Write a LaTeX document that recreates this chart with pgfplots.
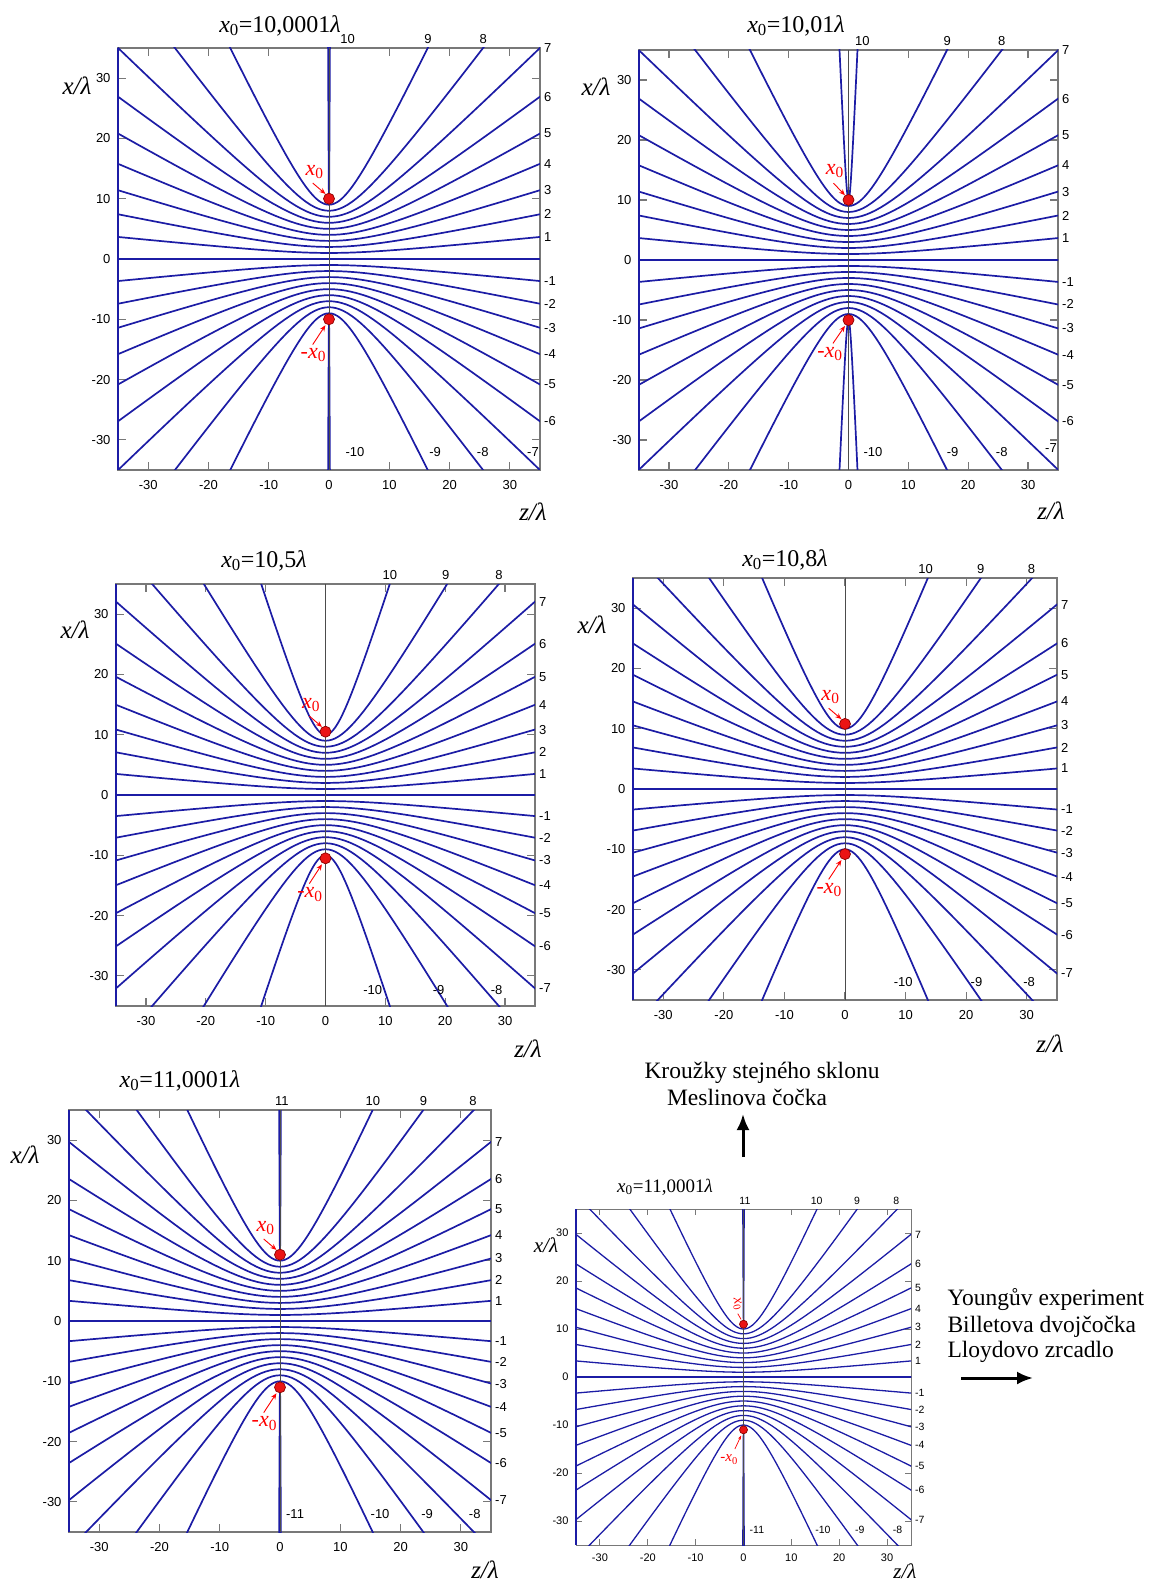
\documentclass[border=0pt]{standalone}
\usepackage{fontspec}
\setmainfont{Liberation Serif}
\newfontfamily\arial{Liberation Sans}
\usepackage{pgfplots}
\usepackage{pgfplotstable}
\pgfplotsset{compat=1.18}
\usetikzlibrary{arrows.meta}

\definecolor{fr}{RGB}{28,28,165}
\definecolor{axg}{RGB}{120,120,120}
\definecolor{dotred}{RGB}{235,20,20}

% unit hyperbola: (sinh s, cosh s), s = -2.6 ... 2.6
\pgfplotstableread{
sh ch
-6.694732 6.769006
-6.050204 6.132289
-5.466229 5.556947
-4.936962 5.037221
-4.457105 4.567908
-4.021857 4.144313
-3.626860 3.762196
-3.268163 3.417732
-2.942174 3.107473
-2.645632 2.828315
-2.375568 2.577464
-2.129279 2.352410
-1.904302 2.150898
-1.698382 1.970914
-1.509461 1.810656
-1.335647 1.668519
-1.175201 1.543081
-1.026517 1.433086
-0.888106 1.337435
-0.758584 1.255169
-0.636654 1.185465
-0.521095 1.127626
-0.410752 1.081072
-0.304520 1.045339
-0.201336 1.020067
-0.100167 1.005004
0 1
0.100167 1.005004
0.201336 1.020067
0.304520 1.045339
0.410752 1.081072
0.521095 1.127626
0.636654 1.185465
0.758584 1.255169
0.888106 1.337435
1.026517 1.433086
1.175201 1.543081
1.335647 1.668519
1.509461 1.810656
1.698382 1.970914
1.904302 2.150898
2.129279 2.352410
2.375568 2.577464
2.645632 2.828315
2.942174 3.107473
3.268163 3.417732
3.626860 3.762196
4.021857 4.144313
4.457105 4.567908
4.936962 5.037221
5.466229 5.556947
6.050204 6.132289
6.694732 6.769006
}\unith

\newcommand\xz{\textit{x}\textsubscript{0}}

\tikzset{
  fringe/.style={fr, line width=1.7pt},
  lbl/.style={font=\arial\fontsize{13}{15}\selectfont, inner sep=1pt},
  slbl/.style={font=\arial\fontsize{10.5}{12}\selectfont, inner sep=1pt},
  xl/.style={text=red, font=\fontsize{22}{24}\selectfont, inner sep=0pt},
  sxl/.style={text=red, font=\fontsize{15}{17}\selectfont, inner sep=0pt},
  xa/.style={red, line width=0.9pt, -{Stealth[length=6pt,width=5pt]}},
}
\pgfplotsset{
  panel/.style={
    scale only axis, anchor=north west,
    xmin=-35, xmax=35, ymin=-35, ymax=35,
    xtick={-30,-20,-10,0,10,20,30}, ytick={-30,-20,-10,0,10,20,30},
    tick align=inside, major tick length=8pt,
    axis line style={axg, line width=1.3pt},
    tick style={axg, line width=1.2pt},
    /pgf/number format/assume math mode=true,
    tick label style={font=\arial\fontsize{13}{15}\selectfont, text=black},
    xticklabel style={yshift=-7pt},
    yticklabel style={xshift=-4pt},
    clip mode=individual,
  },
  src/.style={only marks, mark=*, mark size=5.5pt, mark options={fill=dotred, draw=red!55!black, line width=0.7pt}},
}

\newcommand\fringes[2][fringe]{%
  \foreach \a/\b in {#2}{%
    \edef\tmp{\noexpand\addplot[#1, mark=none] table[x expr=\noexpand\thisrow{sh}*\b, y expr=\noexpand\thisrow{ch}*\a]{\noexpand\unith};%
      \noexpand\addplot[#1, mark=none] table[x expr=\noexpand\thisrow{sh}*\b, y expr=-\noexpand\thisrow{ch}*\a]{\noexpand\unith};}%
    \tmp}}
\newcommand\rlab[2][lbl]{\foreach \v/\t in {#2}{\edef\tmp{\noexpand\node[#1,anchor=west,xshift=3pt] at (axis cs:35,\v) {\t};}\tmp}}
\newcommand\tlab[2][lbl]{\foreach \v/\t in {#2}{\edef\tmp{\noexpand\node[#1,anchor=south,yshift=3pt] at (axis cs:\v,35) {\t};}\tmp}}
\newcommand\blab[3][lbl]{\foreach \v/\t in {#3}{\edef\tmp{\noexpand\node[#1] at (axis cs:\v,#2) {\t};}\tmp}}

\begin{document}
\begin{tikzpicture}
\path[use as bounding box] (0,0) rectangle (1154pt,-1582pt);

% ---------------- Panel 1: x0 = 10.0001
\begin{axis}[panel, at={(118pt,-48pt)}, width=422pt, height=422pt]
\fringes{0/10.0001, 1/9.9500, 2/9.7981, 3/9.5395, 4/9.1652, 5/8.6604, 6/8.0001, 7/7.1416, 8/6.0002, 9/4.3591, 10/0.0447}
\draw[black!70, line width=0.9pt] (axis cs:0,-35) -- (axis cs:0,35);
\draw[fringe] (axis cs:-35,-35) -- (axis cs:-35,35);
\addplot[src] coordinates {(0,10.0001) (0,-10.0001)};
\node[xl] at (axis cs:-2.4,14.4) {\xz};
\draw[xa] (axis cs:-2.7,12.6) -- (axis cs:-0.6,10.8);
\node[xl] at (axis cs:-2.6,-16.0) {-\xz};
\draw[xa] (axis cs:-2.7,-14.2) -- (axis cs:-0.6,-11.0);
\rlab{3.66/1, 7.42/2, 11.41/3, 15.79/4, 20.82/5, 26.93/6, 35/7, -3.66/-1, -7.42/-2, -11.41/-3, -15.79/-4, -20.82/-5, -26.93/-6}
\tlab{3.1/10, 16.4/9, 25.6/8}
\blab{-32}{4.3/-10, 17.6/-9, 25.5/-8}
\node[lbl, anchor=east] at (axis cs:35,-32) {-7};
\end{axis}

% ---------------- Panel 2: x0 = 10.01
\begin{axis}[panel, at={(639pt,-50pt)}, width=419pt, height=420pt]
\fringes{0/10.01, 1/9.9599, 2/9.8082, 3/9.5499, 4/9.1761, 5/8.6718, 6/8.0125, 7/7.1554, 8/6.0167, 9/4.3818, 10/0.4473}
\draw[black!70, line width=0.9pt] (axis cs:0,-35) -- (axis cs:0,35);
\draw[fringe] (axis cs:-35,-35) -- (axis cs:-35,35);
\addplot[src] coordinates {(0,10.01) (0,-10.01)};
\node[xl] at (axis cs:-2.3,14.9) {\xz};
\draw[xa] (axis cs:-2.5,12.8) -- (axis cs:-0.6,10.8);
\node[xl] at (axis cs:-3.1,-15.6) {-\xz};
\draw[xa] (axis cs:-2.6,-13.9) -- (axis cs:-0.6,-11.0);
\rlab{3.65/1, 7.41/2, 11.40/3, 15.77/4, 20.79/5, 26.89/6, 35/7, -3.65/-1, -7.41/-2, -11.40/-3, -15.77/-4, -20.79/-5, -26.89/-6}
\tlab{2.3/10, 16.5/9, 25.6/8}
\blab{-32}{4.1/-10, 17.4/-9, 25.6/-8}
\node[lbl, anchor=east] at (axis cs:35,-31.3) {-7};
\end{axis}

% ---------------- Panel 3: x0 = 10.5
\begin{axis}[panel, at={(116pt,-584pt)}, width=419pt, height=422pt]
\fringes{0/10.5, 1/10.4523, 2/10.3078, 3/10.0623, 4/9.7082, 5/9.2331, 6/8.6168, 7/7.8262, 8/6.8007, 9/5.4083, 10/3.2016}
\draw[black!70, line width=0.9pt] (axis cs:0,-35) -- (axis cs:0,35);
\draw[fringe] (axis cs:-35,-35) -- (axis cs:-35,35);
\addplot[src] coordinates {(0,10.5) (0,-10.5)};
\node[xl] at (axis cs:-2.4,14.9) {\xz};
\draw[xa] (axis cs:-2.7,13.1) -- (axis cs:-0.6,11.3);
\node[xl] at (axis cs:-2.6,-16.5) {-\xz};
\draw[xa] (axis cs:-2.7,-14.7) -- (axis cs:-0.6,-11.5);
\rlab{3.49/1, 7.08/2, 10.86/3, 14.97/4, 19.60/5, 25.10/6, 32.08/7, -3.49/-1, -7.08/-2, -10.86/-3, -14.97/-4, -19.60/-5, -25.10/-6, -32.08/-7}
\tlab{10.74/10, 20.1/9, 29.0/8}
\blab{-32.3}{7.9/-10, 18.9/-9, 28.6/-8}
\end{axis}

% ---------------- Panel 4: x0 = 10.8
\begin{axis}[panel, at={(633pt,-578pt)}, width=424pt, height=422pt]
\fringes{0/10.8, 1/10.7536, 2/10.6132, 3/10.3750, 4/10.0319, 5/9.5729, 6/8.9800, 7/8.2244, 8/7.2553, 9/5.9699, 10/4.0792}
\draw[black!70, line width=0.9pt] (axis cs:0,-35) -- (axis cs:0,35);
\draw[fringe] (axis cs:-35,-35) -- (axis cs:-35,35);
\addplot[src] coordinates {(0,10.8) (0,-10.8)};
\node[xl] at (axis cs:-2.4,15.2) {\xz};
\draw[xa] (axis cs:-2.7,13.4) -- (axis cs:-0.6,11.6);
\node[xl] at (axis cs:-2.6,-16.8) {-\xz};
\draw[xa] (axis cs:-2.7,-15.0) -- (axis cs:-0.6,-11.8);
\rlab{3.40/1, 6.89/2, 10.56/3, 14.52/4, 18.95/5, 24.14/6, 30.60/7, -3.40/-1, -6.89/-2, -10.56/-3, -14.52/-4, -18.95/-5, -24.14/-6, -30.60/-7}
\tlab{13.3/10, 22.4/9, 30.8/8}
\blab{-32}{9.6/-10, 21.7/-9, 30.4/-8}
\end{axis}

% ---------------- Panel 5: x0 = 11.0001
\begin{axis}[panel, at={(69pt,-1110pt)}, width=422pt, height=422pt]
\fringes{0/11.0001, 1/10.9546, 2/10.8168, 3/10.5831, 4/10.2471, 5/9.7981, 6/9.2197, 7/8.4854, 8/7.5500, 9/6.3248, 10/4.5828, 11/0.0469}
\draw[black!70, line width=0.9pt] (axis cs:0,-35) -- (axis cs:0,35);
\draw[fringe] (axis cs:-35,-35) -- (axis cs:-35,35);
\addplot[src] coordinates {(0,11.0001) (0,-11.0001)};
\node[xl] at (axis cs:-2.4,15.4) {\xz};
\draw[xa] (axis cs:-2.7,13.6) -- (axis cs:-0.6,11.8);
\node[xl] at (axis cs:-2.6,-17.0) {-\xz};
\draw[xa] (axis cs:-2.7,-15.2) -- (axis cs:-0.6,-12.0);
\rlab{3.35/1, 6.77/2, 10.37/3, 14.24/4, 18.55/5, 23.55/6, 29.71/7, -3.35/-1, -6.77/-2, -10.37/-3, -14.24/-4, -18.55/-5, -23.55/-6, -29.71/-7}
\tlab{0.3/11, 15.4/10, 23.8/9, 32.0/8}
\blab{-32}{2.5/-11, 16.6/-10, 24.4/-9, 32.3/-8}
\end{axis}

% ---------------- Panel 6: small copy, x0 = 11.0001
\begin{axis}[panel, at={(576pt,-1209pt)}, width=335pt, height=336pt,
  major tick length=6pt,
  axis line style={line width=1pt}, tick style={line width=1pt},
  tick label style={font=\arial\fontsize{11}{13}\selectfont},
  xticklabel style={yshift=2pt}]
\fringes[fringe, line width=1.3pt]{0/11.0001, 1/10.9546, 2/10.8168, 3/10.5831, 4/10.2471, 5/9.7981, 6/9.2197, 7/8.4854, 8/7.5500, 9/6.3248, 10/4.5828, 11/0.0469}
\draw[black!70, line width=0.7pt] (axis cs:0,-35) -- (axis cs:0,35);
\draw[fringe, line width=1.3pt] (axis cs:-35,-35) -- (axis cs:-35,35);
\addplot[src, mark size=4pt] coordinates {(0,11.0001) (0,-11.0001)};
\node[sxl, rotate=-78] at (axis cs:-1.3,15.2) {\xz};
\draw[red, line width=0.7pt] (axis cs:-1.2,13.2) -- (axis cs:-0.5,12.0);
\node[sxl] at (axis cs:-3.0,-17.2) {-\xz};
\draw[xa, line width=0.7pt, -{Stealth[length=4pt,width=3pt]}] (axis cs:-1.8,-15.0) -- (axis cs:-0.5,-12.2);
\rlab[slbl]{3.35/1, 6.77/2, 10.37/3, 14.24/4, 18.55/5, 23.55/6, 29.71/7, -3.35/-1, -6.77/-2, -10.37/-3, -14.24/-4, -18.55/-5, -23.55/-6, -29.71/-7}
\tlab[slbl]{0.3/11, 15.3/10, 23.7/9, 31.9/8}
\blab[slbl]{-31.8}{2.8/-11, 16.6/-10, 24.3/-9, 32.2/-8}
\end{axis}

% ---------------- titles and axis labels
\begin{scope}[every node/.style={font=\fontsize{24}{28}\selectfont}]
\node[anchor=base] at (280pt,-32pt) {\xz=10,0001\textit{λ}};
\node[anchor=base] at (796pt,-32pt) {\xz=10,01\textit{λ}};
\node[anchor=base] at (264pt,-567pt) {\xz=10,5\textit{λ}};
\node[anchor=base] at (785pt,-566pt) {\xz=10,8\textit{λ}};
\node[anchor=base] at (180pt,-1087pt) {\xz=11,0001\textit{λ}};
\end{scope}
\node[anchor=base, font=\fontsize{19}{22}\selectfont] at (665pt,-1192pt) {\xz=11,0001\textit{λ}};

\begin{scope}[every node/.style={font=\fontsize{25}{28}\selectfont}]
\node at (77pt,-86pt) {\textit{x/λ}};
\node at (533pt,-512pt) {\textit{z/λ}};
\node at (596pt,-87pt) {\textit{x/λ}};
\node at (1051pt,-511pt) {\textit{z/λ}};
\node at (75pt,-630pt) {\textit{x/λ}};
\node at (528pt,-1049pt) {\textit{z/λ}};
\node at (592pt,-625pt) {\textit{x/λ}};
\node at (1050pt,-1044pt) {\textit{z/λ}};
\node at (25pt,-1155pt) {\textit{x/λ}};
\node at (485pt,-1570pt) {\textit{z/λ}};
\end{scope}
\node[font=\fontsize{21}{24}\selectfont] at (546pt,-1245pt) {\textit{x/λ}};
\node[font=\fontsize{21}{24}\selectfont] at (905pt,-1571pt) {\textit{z/λ}};

% ---------------- side texts and arrows
\begin{scope}[every node/.style={font=\fontsize{23.5}{28}\selectfont}]
\node[anchor=base] at (762pt,-1078pt) {Kroužky stejného sklonu};
\node[anchor=base] at (747pt,-1105pt) {Meslinova čočka};
\node[anchor=base west] at (944pt,-1305pt) {Youngův experiment};
\node[anchor=base west] at (944pt,-1332pt) {Billetova dvojčočka};
\node[anchor=base west] at (944pt,-1357pt) {Lloydovo zrcadlo};
\end{scope}
\draw[line width=3pt, -{Latex[length=16pt,width=13pt]}] (743pt,-1157pt) -- (743pt,-1114pt);
\draw[line width=3pt, -{Latex[length=16pt,width=13pt]}] (961pt,-1378pt) -- (1033pt,-1378pt);
\end{tikzpicture}
\end{document}
